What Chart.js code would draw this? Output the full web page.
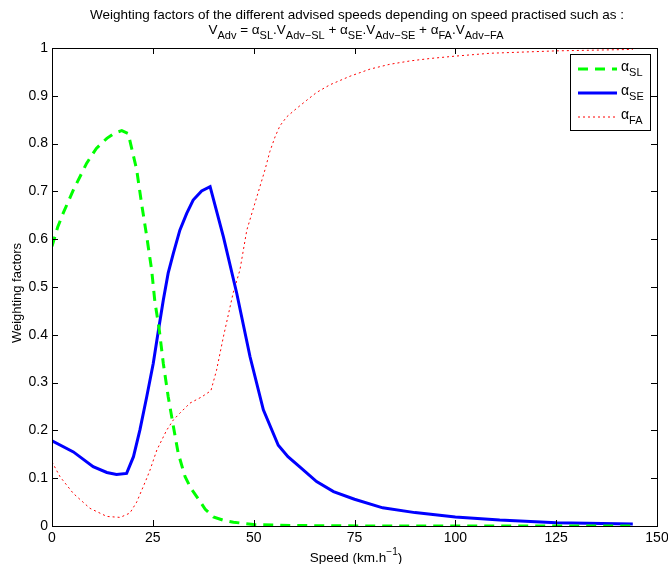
<!DOCTYPE html>
<html>
<head>
<meta charset="utf-8">
<script src="https://cdn.jsdelivr.net/npm/chart.js@4"></script>
<style>
  html, body { margin: 0; padding: 0; background: #fff; }
  #wrap { width: 668px; height: 564px; }
</style>
</head>
<body>
<div id="wrap"><canvas id="Chart" width="668" height="564"></canvas></div>
<script>
//values
var speedSL = [0, 1.4, 2.8, 5.3, 8.6, 11, 13.6, 15.5, 17.3, 18.9, 21, 22.2, 23.5, 24.7, 25.5, 26.6, 27.6, 28.8, 30.1, 31.3, 33, 34.5, 36, 38, 40, 42.5, 45, 50, 60, 80, 100, 120, 144];
var alphaSL = [0.585, 0.625, 0.655, 0.703, 0.759, 0.79, 0.811, 0.822, 0.827, 0.821, 0.745, 0.675, 0.605, 0.536, 0.47, 0.41, 0.34, 0.271, 0.208, 0.152, 0.103, 0.078, 0.06, 0.035, 0.019, 0.012, 0.008, 0.003, 0.001, 0, 0, 0, 0];

var speedSE = [0, 5.3, 10.2, 13.6, 16, 18.5, 20.2, 21.8, 23.5, 25.1, 26.4, 27.6, 28.8, 30.1, 31.7, 33.4, 35, 37.1, 39.2, 42.5, 45.8, 49.1, 52.4, 56.1, 58.5, 61.5, 65.6, 69.8, 75, 82, 90, 100, 111, 125, 144];
var alphaSE = [0.178, 0.155, 0.124, 0.112, 0.108, 0.11, 0.145, 0.201, 0.271, 0.34, 0.41, 0.473, 0.529, 0.571, 0.619, 0.654, 0.682, 0.701, 0.71, 0.605, 0.487, 0.354, 0.243, 0.169, 0.145, 0.123, 0.093, 0.072, 0.056, 0.038, 0.028, 0.019, 0.0125, 0.007, 0.004];

var speedFA = [0, 2, 5.3, 9.4, 13.6, 16.9, 19.3, 21, 22.6, 23.5, 24.3, 26, 28.4, 30.1, 31.7, 34.2, 37.1, 39.4, 40.8, 42.5, 44.9, 46.6, 48.3, 50.8, 52.8, 54, 55.3, 56.5, 58.2, 60.7, 63.2, 65.6, 68.9, 73.9, 78.9, 83.8, 88.8, 93.7, 100, 108.6, 125, 144];
var alphaFA = [0.134, 0.103, 0.068, 0.037, 0.02, 0.018, 0.027, 0.05, 0.082, 0.1, 0.117, 0.159, 0.2, 0.222, 0.236, 0.257, 0.27, 0.283, 0.326, 0.396, 0.487, 0.536, 0.619, 0.689, 0.745, 0.783, 0.814, 0.837, 0.856, 0.874, 0.891, 0.907, 0.923, 0.941, 0.956, 0.966, 0.973, 0.978, 0.983, 0.989, 0.994, 0.997];

var seriesNames = ["SL", "SE", "FA"];
var seriesColors = ["#00ff00", "#0000ff", "#ff0000"];

var FONT = "'Liberation Sans', Arial, Helvetica, sans-serif";

//zip x and y into points
function toPoints(xs, ys) {
  return xs.map(function (x, i) {
    return { x: x, y: ys[i] };
  });
}

//draw a run of text pieces, some of them subscripts
function drawRich(ctx, parts, cx, y, size, align) {
  var subSize = Math.round(size * 0.78);
  var total = 0;
  parts.forEach(function (p) {
    ctx.font = (p[1] ? subSize : size) + "px " + FONT;
    total += ctx.measureText(p[0]).width;
  });
  var x = align == "left" ? cx : cx - total / 2;
  ctx.textAlign = "left";
  ctx.textBaseline = "alphabetic";
  parts.forEach(function (p) {
    ctx.font = (p[1] ? subSize : size) + "px " + FONT;
    ctx.fillText(p[0], x, p[1] ? y + size * 0.35 : y);
    x += ctx.measureText(p[0]).width;
  });
}

//box, inward ticks, titles and legend like the original figure
var decorPlugin = {
  id: "decor",
  afterDraw: function (chart) {
    var ctx = chart.ctx;
    var a = chart.chartArea;
    var xs = chart.scales.x;
    var ys = chart.scales.y;
    ctx.save();
    ctx.strokeStyle = "#000";
    ctx.lineWidth = 1;
    ctx.strokeRect(Math.round(a.left) + 0.5, Math.round(a.top) + 0.5, Math.round(a.right - a.left), Math.round(a.bottom - a.top));

    ctx.beginPath();
    xs.ticks.forEach(function (t) {
      var px = Math.round(xs.getPixelForValue(t.value)) + 0.5;
      ctx.moveTo(px, a.bottom); ctx.lineTo(px, a.bottom - 6);
      ctx.moveTo(px, a.top); ctx.lineTo(px, a.top + 6);
    });
    ys.ticks.forEach(function (t) {
      var py = Math.round(ys.getPixelForValue(t.value)) + 0.5;
      ctx.moveTo(a.left, py); ctx.lineTo(a.left + 6, py);
      ctx.moveTo(a.right, py); ctx.lineTo(a.right - 6, py);
    });
    ctx.stroke();

    ctx.fillStyle = "#000";
    //title
    ctx.font = "13.5px " + FONT;
    ctx.textAlign = "center";
    ctx.textBaseline = "alphabetic";
    ctx.fillText("Weighting factors of the different advised speeds depending on speed practised such as :", 357, 19);
    drawRich(ctx, [
      ["V", 0], ["Adv", 1], [" = \u03b1", 0], ["SL", 1], [".V", 0], ["Adv\u2212SL", 1],
      [" + \u03b1", 0], ["SE", 1], [".V", 0], ["Adv\u2212SE", 1],
      [" + \u03b1", 0], ["FA", 1], [".V", 0], ["Adv\u2212FA", 1]
    ], 356, 34, 13.5);

    //axis titles
    ctx.font = "13.5px " + FONT;
    var w1 = ctx.measureText("Speed (km.h").width;
    ctx.font = "10px " + FONT;
    var w2 = ctx.measureText("\u22121").width;
    ctx.font = "13.5px " + FONT;
    var w3 = ctx.measureText(")").width;
    var sx = 356 - (w1 + w2 + w3) / 2;
    ctx.textAlign = "left";
    ctx.fillText("Speed (km.h", sx, 562);
    ctx.font = "10px " + FONT;
    ctx.fillText("\u22121", sx + w1, 555);
    ctx.font = "13.5px " + FONT;
    ctx.fillText(")", sx + w1 + w2, 562);

    ctx.save();
    ctx.translate(21, 293);
    ctx.rotate(-Math.PI / 2);
    ctx.textAlign = "center";
    ctx.font = "13px " + FONT;
    ctx.fillText("Weighting factors", 0, 0);
    ctx.restore();

    //legend
    ctx.fillStyle = "#fff";
    ctx.fillRect(571, 55, 80, 76);
    ctx.strokeStyle = "#000";
    ctx.lineWidth = 1;
    ctx.strokeRect(570.5, 54.5, 80, 76);
    chart.data.datasets.forEach(function (ds, i) {
      var ly = 69 + i * 24;
      ctx.save();
      ctx.strokeStyle = ds.borderColor;
      ctx.lineWidth = ds.borderWidth;
      ctx.setLineDash(ds.borderDash || []);
      ctx.beginPath();
      ctx.moveTo(578, ly);
      ctx.lineTo(617, ly);
      ctx.stroke();
      ctx.restore();
      ctx.fillStyle = "#000";
      drawRich(ctx, [["\u03b1", 0], [seriesNames[i], 1]], 621, ly + 2, 14, "left");
    });
    ctx.restore();
  },
};

var ctx = document.getElementById("Chart").getContext("2d");

var myChart = new Chart(ctx, {
  type: "line",
  data: {
    datasets: [
      {
        label: "SL",
        data: toPoints(speedSL, alphaSL),
        borderColor: seriesColors[0],
        borderWidth: 3,
        borderDash: [10, 7],
        pointRadius: 0,
        tension: 0,
      },
      {
        label: "SE",
        data: toPoints(speedSE, alphaSE),
        borderColor: seriesColors[1],
        borderWidth: 3,
        pointRadius: 0,
        tension: 0,
      },
      {
        label: "FA",
        data: toPoints(speedFA, alphaFA),
        borderColor: seriesColors[2],
        borderWidth: 1,
        borderDash: [2, 3],
        pointRadius: 0,
        tension: 0,
      },
    ],
  },
  options: {
    responsive: false,
    animation: false,
    layout: { padding: { top: 48, right: 11, left: 0, bottom: 0 } },
    plugins: {
      legend: { display: false },
      title: { display: false },
      tooltip: { enabled: false },
    },
    scales: {
      x: {
        type: "linear",
        min: 0,
        max: 150,
        ticks: {
          stepSize: 25,
          color: "#000",
          padding: 4,
          maxRotation: 0,
          font: { family: FONT, size: 14 },
        },
        grid: { display: false, drawTicks: false },
        border: { display: false },
        afterFit: function (scale) {
          scale.height = 38;
          scale.paddingLeft = 0;
          scale.paddingRight = 0;
        },
      },
      y: {
        min: 0,
        max: 1,
        ticks: {
          stepSize: 0.1,
          color: "#000",
          padding: 4,
          font: { family: FONT, size: 14 },
          callback: function (v) {
            return String(Math.round(v * 10) / 10);
          },
        },
        grid: { display: false, drawTicks: false },
        border: { display: false },
        afterFit: function (scale) {
          scale.width = 52;
        },
      },
    },
  },
  plugins: [decorPlugin],
});
</script>
</body>
</html>
